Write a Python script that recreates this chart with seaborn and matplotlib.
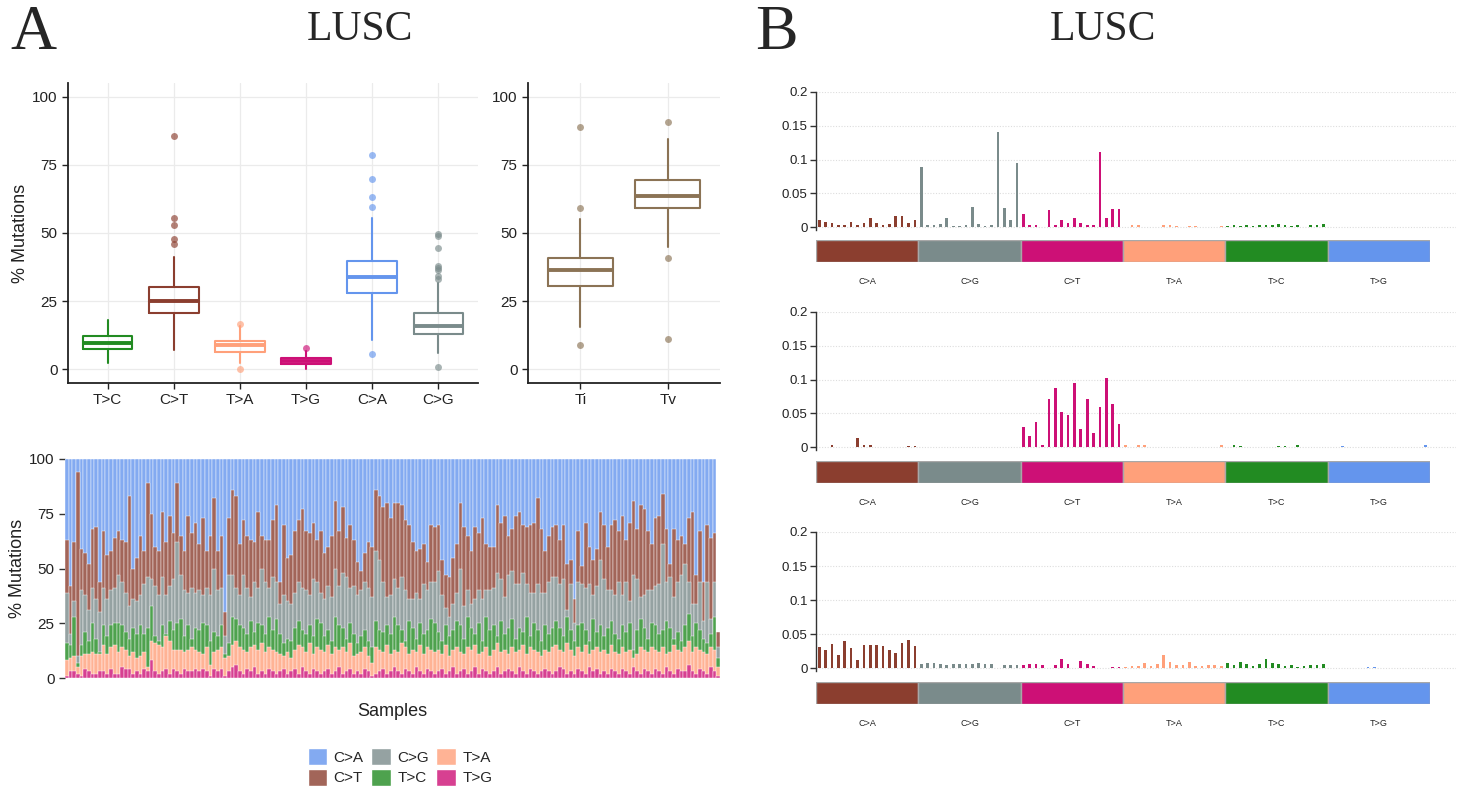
import numpy as np
import pandas as pd
import matplotlib
matplotlib.use("Agg")
import matplotlib.pyplot as plt
import seaborn as sns
from matplotlib.patches import Patch

sns.set_theme(style="white")
plt.rcParams['font.family'] = ['Liberation Sans', 'DejaVu Sans']

# ---------------- data ----------------
box_cats = ['T>C', 'C>T', 'T>A', 'T>G', 'C>A', 'C>G']
box_q1 = [7.3, 20.5, 6.3, 1.8, 28.0, 12.9]
box_med = [9.8, 25.2, 8.9, 3.0, 33.9, 16.0]
box_q3 = [12.2, 30.1, 10.4, 4.3, 39.9, 20.7]
box_lo = [2.2, 7.0, 2.4, 0.2, 10.7, 6.1]
box_hi = [18.0, 41.2, 16.0, 6.7, 55.5, 31.7]
box_fliers = [[], [85.6, 55.6, 52.8, 47.7, 45.9], [16.8, 0.0], [7.8],
              [78.7, 69.9, 63.3, 59.6, 5.5],
              [49.6, 48.8, 44.5, 37.8, 37.0, 36.5, 34.1, 33.2, 1.0]]

titv_cats = ['Ti', 'Tv']
titv_q1 = [30.5, 59.1]
titv_med = [36.6, 63.4]
titv_q3 = [40.9, 69.3]
titv_lo = [15.6, 44.8]
titv_hi = [55.1, 84.4]
titv_fliers = [[88.7, 59.1, 9.1], [90.7, 40.9, 11.3]]

# cumulative tops (%) of the stacked bars per sample, bottom to top:
# T>G, T>A, T>C, C>G, C>T, C>A(total)
top_CT = [63,42,62,94,59,57,52,68,69,44, 67,56,58,64,67,63,62,83,50,55,
          65,58,89,75,60,58,76,62,74,66, 89,65,58,74,66,71,61,73,58,65,
          82,58,65,30,73,86,83,61,72,65, 63,62,76,65,63,63,72,79,44,70,
          55,56,67,72,77,67,66,71,63,67, 57,60,65,81,67,78,64,70,63,53,
          49,57,62,60,86,83,78,80,73,80, 80,79,72,70,62,58,59,61,53,70,
          69,70,54,47,46,55,61,80,69,65, 58,69,66,73,61,60,60,79,71,74,
          65,68,74,76,70,69,70,71,82,68, 58,65,69,70,63,70,52,54,36,67,
          51,71,60,54,59,76,70,60,70,72, 67,74,63,71,81,68,79,77,67,61,
          73,74,84,68,52,68,63,65,61,73, 76,47,67,44,70,64,66,21]
top_CG = [39,20,35,10,40,38,31,41,36,30, 41,36,40,41,47,44,39,33,36,35,
          38,43,46,45,42,38,46,38,42,45, 62,47,40,39,41,39,40,38,41,38,
          50,40,41,19,47,47,41,38,47,41, 37,44,41,50,44,41,46,44,34,38,
          35,34,39,44,41,40,38,45,44,39, 36,42,37,50,42,48,46,41,42,38,
          40,44,41,37,58,54,44,37,38,45, 41,46,40,36,36,39,36,43,40,44,
          44,49,38,32,28,34,39,50,33,40, 34,36,40,36,40,40,41,48,45,37,
          47,49,43,43,48,43,39,39,43,39, 39,44,46,46,43,45,31,43,25,44,
          43,41,43,38,42,54,45,40,40,38, 44,38,44,35,47,45,37,38,40,40,
          42,43,61,44,46,37,44,47,52,44, 34,34,44,26,44,27,44,14]
top_TC = [16,15,28,7,15,21,17,25,18,12, 24,19,24,25,25,24,21,18,23,20,
          24,20,23,33,19,17,24,20,26,22, 25,27,19,24,18,23,22,25,24,17,
          21,19,24,11,16,28,27,24,23,20, 26,21,25,24,20,28,22,27,20,16,
          18,17,23,26,22,20,24,19,27,25, 19,22,17,28,24,23,18,25,20,16,
          19,22,17,14,26,22,21,24,20,28, 24,22,17,26,23,18,25,20,22,27,
          25,21,17,24,19,22,26,24,18,28, 23,20,25,17,28,22,24,19,26,20,
          23,27,18,23,21,28,19,25,22,17, 24,20,23,26,23,19,28,22,17,24,
          25,22,17,27,21,24,19,23,26,20, 18,24,21,25,13,22,27,23,18,25,
          24,20,22,26,23,18,21,17,24,29, 19,25,22,18,16,20,28,9]
top_TA = [8,9,10,5,10,11,11,12,11,11, 15,11,14,15,12,14,13,10,12,9,
          10,12,5,17,16,15,14,19,17,13, 13,13,12,13,14,13,12,11,14,6,
          12,13,14,9,10,15,17,14,13,12, 14,15,13,16,12,14,13,12,11,10,
          12,9,13,15,14,12,16,11,14,13, 12,15,11,14,13,14,12,16,10,11,
          12,14,10,7,14,13,12,15,11,13, 12,16,14,11,13,12,15,11,14,13,
          12,13,11,15,10,13,14,12,11,14, 13,15,11,12,14,10,13,16,12,13,
          11,14,12,13,15,11,14,13,12,10, 13,12,14,15,13,12,16,13,10,14,
          12,15,11,13,14,12,13,11,15,12, 11,14,12,13,9,11,14,13,12,14,
          13,12,14,11,12,15,13,12,14,17, 12,14,13,12,11,14,13,5]
top_TG = [1,3,3,2,1,4,3,2,2,3, 3,2,4,2,2,5,4,4,2,3,
          2,4,3,8,3,2,3,4,2,4, 3,2,4,3,3,4,3,4,3,1,
          4,3,4,1,3,5,6,3,2,4, 3,5,2,3,2,4,3,2,3,4,
          2,3,4,2,5,3,2,4,3,2, 3,4,2,3,5,2,3,4,2,3,
          2,4,3,1,2,3,4,2,3,5, 3,2,4,3,2,5,3,2,4,3,
          2,3,4,2,3,5,2,3,4,2, 3,5,2,4,3,2,3,5,2,3,
          4,3,2,5,3,2,4,3,2,3, 4,3,2,3,5,4,2,3,2,4,
          3,2,5,3,4,2,3,2,4,3, 2,4,3,2,5,3,2,4,3,2,
          4,3,2,5,3,2,4,3,3,6, 3,2,4,3,2,5,3,1]
top_CA = [100] * 177 + [21]

stack_cats = ['C>A', 'C>T', 'C>G', 'T>C', 'T>A', 'T>G']

sig_groups = ['C>A', 'C>G', 'C>T', 'T>A', 'T>C', 'T>G']
sig1 = [0.011,0.008,0.006,0.004,0.004,0.008,0.004,0.006,0.014,0.007,0.004,0.005,0.017,0.017,0.007,0.011,
        0.089,0.003,0.003,0.005,0.013,0.002,0.002,0.003,0.030,0.005,0.002,0.004,0.141,0.029,0.011,0.095,
        0.019,0.003,0.004,0.001,0.026,0.004,0.011,0.006,0.014,0.006,0.003,0.003,0.111,0.014,0.027,0.027,
        0.001,0.003,0.003,0,0,0.001,0.004,0.004,0.002,0,0.002,0.002,0,0.001,0,0.002,
        0.002,0.003,0.002,0.003,0.002,0.003,0.004,0.004,0.005,0.003,0.002,0.003,0.001,0.003,0.003,0.005,
        0.001,0,0,0,0,0,0,0.001,0,0,0,0.001,0,0.001,0,0.001]
sig2 = [0.001,0,0.003,0,0.001,0.001,0.014,0.003,0.004,0,0.001,0,0.001,0,0.002,0.002,
        0,0,0,0,0,0,0,0,0,0,0,0,0,0,0,0,
        0.030,0.017,0.037,0.004,0.071,0.087,0.052,0.047,0.095,0.027,0.072,0.021,0.060,0.103,0.064,0.035,
        0.003,0,0.003,0.003,0,0,0,0,0,0,0.001,0,0,0,0,0.004,
        0.001,0.003,0.002,0.001,0,0,0,0,0.002,0.002,0,0.004,0,0.001,0.001,0.001,
        0,0,0.002,0,0,0,0,0.001,0,0,0.001,0,0,0,0,0.003]
sig3 = [0.031,0.027,0.036,0.020,0.040,0.030,0.012,0.034,0.034,0.034,0.032,0.027,0.023,0.037,0.042,0.033,
        0.007,0.008,0.008,0.007,0.005,0.006,0.006,0.006,0.006,0.008,0.006,0.006,0,0.005,0.005,0.005,
        0.005,0.006,0.007,0.005,0.001,0.005,0.013,0.006,0,0.011,0.006,0.004,0,0,0.002,0.002,
        0.002,0.003,0.004,0.008,0.003,0.007,0.020,0.009,0.005,0.005,0.009,0.004,0.003,0.005,0.005,0.003,
        0.008,0.005,0.009,0.007,0.004,0.006,0.013,0.008,0.006,0.004,0.005,0.002,0.004,0.005,0.005,0.007,
        0.001,0.001,0.001,0.001,0.001,0.001,0.002,0.002,0,0,0.001,0,0,0,0.001,0.001]

# ---------------- styles ----------------
base_col = {'C>A': '#6495ED', 'C>T': '#8B3E2F', 'C>G': '#7A8B8B',
            'T>A': '#FFA07A', 'T>C': '#228B22', 'T>G': '#CD1076'}
sig_col = {'C>A': '#8B3E2F', 'C>G': '#7A8B8B', 'C>T': '#CD1076',
           'T>A': '#FFA07A', 'T>C': '#228B22', 'T>G': '#6495ED'}
titv_col = '#8B7355'

def soften(c, a=0.8):
    r, g, b = matplotlib.colors.to_rgb(c)
    return (r * a + (1 - a), g * a + (1 - a), b * a + (1 - a))

W, H = 1458, 796
fig = plt.figure(figsize=(W / 100, H / 100), dpi=100)

def px_axes(l, t, r, b):
    return fig.add_axes([l / W, 1 - b / H, (r - l) / W, (b - t) / H])

serif = ['Liberation Serif', 'DejaVu Serif']
fig.text(10 / W, 1 - 34 / H, 'A', fontsize=46, family=serif, va='center', ha='left')
fig.text(360 / W, 1 - 30 / H, 'LUSC', fontsize=30, family=serif, va='center', ha='center')
fig.text(755 / W, 1 - 34 / H, 'B', fontsize=46, family=serif, va='center', ha='left')
fig.text(1103 / W, 1 - 30 / H, 'LUSC', fontsize=30, family=serif, va='center', ha='center')

def style_box_axes(ax, ncat, labels):
    ax.set_xlim(-0.6, ncat - 0.4)
    ax.set_ylim(-5, 105)
    ax.set_yticks([0, 25, 50, 75, 100])
    ax.set_xticks(range(ncat))
    ax.set_xticklabels(labels)
    ax.grid(True, color='#EBEBEB', linewidth=0.9)
    ax.set_axisbelow(True)
    for s in ['top', 'right']:
        ax.spines[s].set_visible(False)
    for s in ['left', 'bottom']:
        ax.spines[s].set_color('#222222')
        ax.spines[s].set_linewidth(1.3)
    ax.tick_params(axis='both', which='both', direction='out', length=4, width=1,
                   color='#222222', labelsize=11, labelcolor='#222222',
                   left=True, bottom=True)

def draw_boxes(ax, q1, med, q3, lo, hi, fl, colors):
    for i in range(len(med)):
        st = dict(med=med[i], q1=q1[i], q3=q3[i], whislo=lo[i], whishi=hi[i], fliers=fl[i])
        c = colors[i]
        ax.bxp([st], positions=[i], widths=0.75, showcaps=False, manage_ticks=False,
               boxprops=dict(color=c, linewidth=1.5),
               whiskerprops=dict(color=c, linewidth=1.5),
               medianprops=dict(color=c, linewidth=2.8),
               flierprops=dict(marker='o', markerfacecolor=c, markeredgecolor='none',
                               markersize=5, alpha=0.65))

# ---- A: box plot of 6 classes ----
ax1 = px_axes(68, 83, 478, 383)
draw_boxes(ax1, box_q1, box_med, box_q3, box_lo, box_hi, box_fliers,
           [base_col[c] for c in box_cats])
style_box_axes(ax1, 6, box_cats)
ax1.set_ylabel('% Mutations', fontsize=13, color='#222222', labelpad=2)

# ---- A: Ti / Tv ----
ax2 = px_axes(528, 83, 720, 383)
draw_boxes(ax2, titv_q1, titv_med, titv_q3, titv_lo, titv_hi, titv_fliers,
           [titv_col, titv_col])
style_box_axes(ax2, 2, titv_cats)

# ---- A: stacked per-sample bars ----
ax3 = px_axes(65, 459, 720, 678)
n = len(top_CA)
idx = list(range(n))
layers = [(top_CA, 'C>A'), (top_CT, 'C>T'), (top_CG, 'C>G'),
          (top_TC, 'T>C'), (top_TA, 'T>A'), (top_TG, 'T>G')]
for vals, cat in layers:
    sns.barplot(x=idx, y=vals, color=soften(base_col[cat]), width=1.0,
                edgecolor='white', linewidth=0.3, errorbar=None, ax=ax3,
                saturation=1)
ax3.set_xlim(-0.5, n - 0.5)
ax3.set_ylim(0, 100)
ax3.set_xticks([])
ax3.set_yticks([0, 25, 50, 75, 100])
for s in ax3.spines.values():
    s.set_visible(False)
ax3.tick_params(axis='y', left=True, length=4, width=1, color='#333333',
                labelsize=11, labelcolor='#222222')
ax3.set_ylabel('% Mutations', fontsize=13, color='#222222', labelpad=2)
ax3.set_xlabel('Samples', fontsize=13, color='#222222', labelpad=18)

handles = [Patch(facecolor=soften(base_col[c]), edgecolor='white', label=c) for c in stack_cats]
fig.legend(handles=handles, ncol=3, loc='center', bbox_to_anchor=(400 / W, 1 - 767 / H),
           frameon=False, fontsize=11, handlelength=1.3, handleheight=1.3,
           handletextpad=0.4, columnspacing=0.5, labelspacing=0.25)

# ---- B: signature panels ----
panels = [(sig1, 92, 230, 240, 262), (sig2, 312, 450, 461, 483), (sig3, 532, 671, 682, 704)]
grp_list = [g for g in sig_groups for _ in range(16)]
for sig, top, bot, st_top, st_bot in panels:
    ax = px_axes(816, top, 1456, bot)
    df = pd.DataFrame({'ctx': list(range(96)), 'val': sig, 'grp': grp_list})
    sns.barplot(data=df, x='ctx', y='val', hue='grp', palette=sig_col, dodge=False,
                width=0.42, legend=False, errorbar=None, saturation=1,
                edgecolor='none', linewidth=0, ax=ax)
    ax.set_xlim(-0.5, 99.8)
    ax.set_ylim(-0.004, 0.2)
    ax.set_yticks([0, 0.05, 0.1, 0.15, 0.2])
    ax.set_yticklabels(['0', '0.05', '0.1', '0.15', '0.2'])
    ax.set_xticks([])
    ax.set_xlabel('')
    ax.set_ylabel('')
    ax.yaxis.grid(True, color='#DDDDDD', linestyle=(0, (1, 1.5)), linewidth=0.8)
    ax.set_axisbelow(True)
    for s in ['top', 'right', 'bottom']:
        ax.spines[s].set_visible(False)
    ax.spines['left'].set_color('#333333')
    ax.spines['left'].set_linewidth(1.0)
    ax.tick_params(axis='y', left=True, length=4, width=1, color='#333333',
                   labelsize=9.5, labelcolor='#222222', pad=2)

    axs = px_axes(816, st_top, 1430, st_bot)
    sns.barplot(x=sig_groups, y=[1] * 6, hue=sig_groups, palette=sig_col, width=1.0,
                edgecolor='#A8A8A8', linewidth=1.0, legend=False, errorbar=None,
                saturation=1, ax=axs)
    axs.set_xlim(-0.5, 5.5)
    axs.set_ylim(0, 1)
    axs.axis('off')
    for i, g in enumerate(sig_groups):
        axs.text(i, -0.9, g, ha='center', va='center', fontsize=6.5, color='#222222')

fig.savefig('out.png', dpi=100)
